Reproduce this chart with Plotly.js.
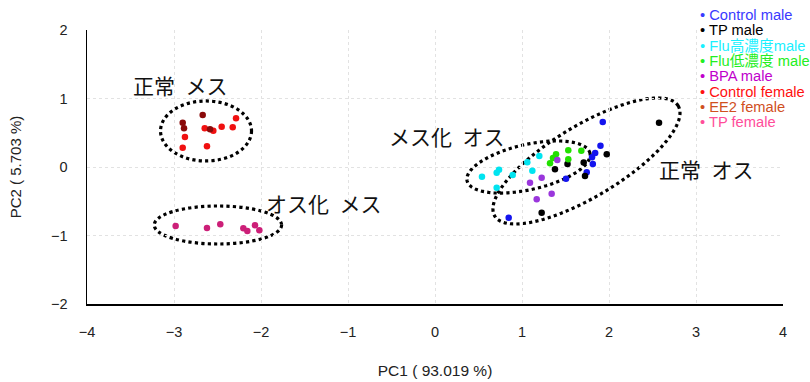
<!DOCTYPE html>
<html>
<head>
<meta charset="utf-8">
<script src="https://cdn.plot.ly/plotly-3.0.1.min.js"></script>
<style>html,body{margin:0;padding:0;background:#fff;}#chart{width:810px;height:382px;}</style>
</head>
<body>
<div id="chart"></div>
<script>
// ---- data ----
const seriesNames = ["Control male", "TP male", "Flu高濃度male", "Flu低濃度 male", "BPA male", "Control female", "EE2 female", "TP female"];
const markerColors = ["#1414ee", "#000000", "#00e4f0", "#22e000", "#9a36dc", "#f01010", "#8a0a0a", "#cc1f78"];
const legendColors = ["#3a3aff", "#000000", "#19f0ff", "#22ee22", "#c000cc", "#ff1010", "#d0501e", "#ff4d9a"];

const controlMaleX = [1.928, 1.902, 1.841, 1.805, 1.814, 1.744, 1.506, 0.847];
const controlMaleY = [0.657, 0.309, 0.204, 0.142, 0.044, -0.076, -0.172, -0.740];
const tpMaleX = [1.379, 1.523, 1.709, 1.724, 1.974, 2.575, 1.226];
const tpMaleY = [-0.034, 0.044, 0.066, -0.131, 0.187, 0.647, -0.667];
const fluHighX = [0.540, 0.709, 0.736, 0.709, 0.893, 1.061, 1.119, 1.199];
const fluHighY = [-0.141, -0.083, -0.039, -0.302, -0.117, 0.069, -0.054, 0.161];
const fluLowX = [1.391, 1.532, 1.682, 1.322, 1.532, 1.356];
const fluLowY = [0.185, 0.244, 0.238, 0.054, 0.112, 0.131];
const bpaX = [1.092, 1.226, 1.406, 1.169, 1.341];
const bpaY = [-0.229, -0.156, 0.102, -0.472, -0.390];
const controlFemaleX = [-2.287, -2.647, -2.548, -2.452, -2.325, -2.874, -2.900, -2.621];
const controlFemaleY = [0.711, 0.565, 0.530, 0.588, 0.580, 0.438, 0.282, 0.302];
const ee2FemaleX = [-2.670, -2.900, -2.885, -2.586];
const ee2FemaleY = [0.759, 0.647, 0.565, 0.550];
const tpFemaleX = [-2.981, -2.621, -2.468, -2.203, -2.157, -2.069, -2.019];
const tpFemaleY = [-0.861, -0.891, -0.837, -0.895, -0.934, -0.852, -0.924];

const groupLabels = ["正常\u2002メス", "オス化\u2002メス", "メス化\u2002オス", "正常\u2002オス"];
const groupLabelX = [-2.93, -1.276, 0.138, 3.115];
const groupLabelY = [1.19, -0.526, 0.453, -0.029];

const xTitle = "PC1 ( 93.019 %)";
const yTitle = "PC2 ( 5.703 %)";

// ---- layout constants ----
const W = 810, H = 382;
const M = {l: 87, r: 27, t: 30, b: 78};
const xRange = [-4, 4], yRange = [-2, 2];
const pxPerX = (W - M.l - M.r) / (xRange[1] - xRange[0]);
const pxPerY = (H - M.t - M.b) / (yRange[1] - yRange[0]);
const ratio = pxPerX / pxPerY;

const xs = [controlMaleX, tpMaleX, fluHighX, fluLowX, bpaX, controlFemaleX, ee2FemaleX, tpFemaleX];
const ys = [controlMaleY, tpMaleY, fluHighY, fluLowY, bpaY, controlFemaleY, ee2FemaleY, tpFemaleY];

const traces = seriesNames.map((n, i) => ({
  type: 'scatter', mode: 'markers', name: n, x: xs[i], y: ys[i],
  marker: {color: markerColors[i], size: 6.5, line: {width: 0}},
  showlegend: false, hoverinfo: 'name+x+y'
}));

// rotated ellipse path; a,b in x-units (screen-isotropic), angle in screen degrees
function ellipsePath(cx, cy, a, b, deg) {
  const th = deg * Math.PI / 180;
  let p = '';
  for (let k = 0; k <= 120; k++) {
    const t = 2 * Math.PI * k / 120;
    const dx = a * Math.cos(t) * Math.cos(th) - b * Math.sin(t) * Math.sin(th);
    const dy = a * Math.cos(t) * Math.sin(th) + b * Math.sin(t) * Math.cos(th);
    p += (k === 0 ? 'M ' : ' L ') + (cx + dx).toFixed(4) + ',' + (cy + dy * ratio).toFixed(4);
  }
  return p + ' Z';
}
const ellLine = {color: '#000', width: 3.2, dash: 'dot'};
const shapes = [
  {type: 'circle', xref: 'x', yref: 'y', x0: -3.155, x1: -2.109, y0: 0.088, y1: 0.964, line: ellLine, layer: 'below'},
  {type: 'circle', xref: 'x', yref: 'y', x0: -3.227, x1: -1.763, y0: -1.124, y1: -0.569, line: ellLine, layer: 'below'},
  {type: 'path', xref: 'x', yref: 'y', path: ellipsePath(1.075, 0.0, 0.724, 0.260, 12.7), line: ellLine, layer: 'below'},
  {type: 'path', xref: 'x', yref: 'y', path: ellipsePath(1.741, 0.088, 1.230, 0.410, 31), line: ellLine, layer: 'below'}
];

const fontBase = '"Liberation Sans", Arial, "Noto Sans CJK JP", sans-serif';
const fontJP = '"Noto Sans CJK JP", "Liberation Sans", sans-serif';

const annotations = groupLabels.map((t, i) => ({
  x: groupLabelX[i], y: groupLabelY[i], xref: 'x', yref: 'y', text: t, showarrow: false,
  font: {family: fontJP, size: 21, color: '#111'}, xanchor: 'center', yanchor: 'middle'
}));
seriesNames.forEach((n, i) => {
  annotations.push({
    xref: 'paper', yref: 'paper', x: (698 - M.l) / (W - M.l - M.r), y: (H - M.b - (15 + i * 15.3)) / (H - M.t - M.b),
    xanchor: 'left', yanchor: 'middle', showarrow: false,
    text: '• ' + n, font: {family: fontBase, size: 14.7, color: legendColors[i]}
  });
});

const axisCommon = {
  showline: true, linecolor: '#000', linewidth: 1.5, mirror: false,
  showgrid: true, gridcolor: '#e2e2e2', griddash: 'dot', gridwidth: 1,
  zeroline: false, ticks: '', dtick: 1,
  tickfont: {family: fontBase, size: 14.5, color: '#222'}
};

const layout = {
  width: W, height: H, margin: M, paper_bgcolor: '#fff', plot_bgcolor: '#fff',
  showlegend: false,
  xaxis: Object.assign({}, axisCommon, {range: xRange, ticklabelstandoff: 14,
    title: {text: xTitle, font: {family: fontBase, size: 15.5, color: '#222'}, standoff: 26}}),
  yaxis: Object.assign({}, axisCommon, {range: yRange, ticklabelstandoff: 15,
    title: {text: yTitle, font: {family: fontBase, size: 15, color: '#222'}, standoff: 26}}),
  shapes: shapes, annotations: annotations
};

Plotly.newPlot('chart', traces, layout, {displayModeBar: false, staticPlot: true});
</script>
</body>
</html>
